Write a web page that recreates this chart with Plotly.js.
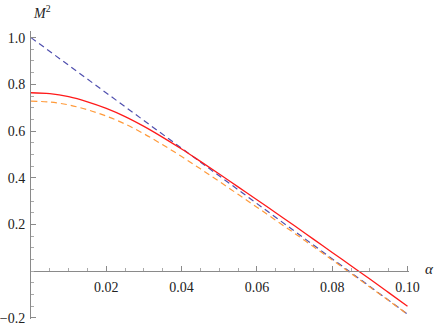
<!DOCTYPE html>
<html>
<head>
<meta charset="utf-8">
<script src="https://cdn.plot.ly/plotly-3.0.1.min.js"></script>
<style>html,body{margin:0;padding:0;background:#fff;}#chart{width:436px;height:327px;}</style>
</head>
<body>
<div id="chart"></div>
<script>
// alpha grid for the curved series
const alpha = [0, 0.005, 0.01, 0.015, 0.02, 0.025, 0.03, 0.035, 0.04, 0.045, 0.05,
               0.055, 0.06, 0.065, 0.07, 0.075, 0.08, 0.085, 0.09, 0.095, 0.1];
// red solid curve
const redM2 = [0.764, 0.760, 0.747, 0.725, 0.697, 0.662, 0.620, 0.573, 0.523, 0.470, 0.416,
               0.361, 0.306, 0.250, 0.194, 0.137, 0.080, 0.023, -0.034, -0.092, -0.150];
// orange dashed curve
const orangeM2 = [0.728, 0.724, 0.712, 0.691, 0.664, 0.630, 0.588, 0.541, 0.491, 0.438, 0.384,
                  0.329, 0.274, 0.218, 0.162, 0.105, 0.048, -0.010, -0.068, -0.126, -0.185];
// blue dashed straight line
const blueAlpha = [0, 0.05, 0.1];
const blueM2 = [1.0, 0.408, -0.184];

const xTickVals = [0.02, 0.04, 0.06, 0.08, 0.1];
const xTickText = ["0.02", "0.04", "0.06", "0.08", "0.10"];
const yTickVals = [-0.2, 0.2, 0.4, 0.6, 0.8, 1.0];
const yTickText = ["\u22120.2", "0.2", "0.4", "0.6", "0.8", "1.0"];

const serif = "Times New Roman, Liberation Serif, DejaVu Serif, serif";
const axisGray = "#8a8a8a";
const yMin = -0.205, yMax = 1.0284;

const traces = [
  {x: blueAlpha, y: blueM2, mode: "lines", line: {color: "#4f4fae", width: 1.2, dash: "6px,4px"}, hoverinfo: "skip"},
  {x: alpha, y: orangeM2, mode: "lines", line: {color: "#ff9a3a", width: 1.2, dash: "6px,4px", shape: "spline"}, hoverinfo: "skip"},
  {x: alpha, y: redM2, mode: "lines", line: {color: "#ff1a1a", width: 1.3, shape: "spline"}, hoverinfo: "skip"}
];

const layout = {
  width: 436, height: 327,
  margin: {l: 31, r: 27, t: 31, b: 8},
  paper_bgcolor: "#fff", plot_bgcolor: "#fff",
  showlegend: false,
  font: {family: serif, size: 14, color: "#222"},
  xaxis: {
    range: [0, 0.1004], anchor: "free", position: (0 - yMin) / (yMax - yMin),
    showline: true, linecolor: axisGray, linewidth: 1,
    showgrid: false, zeroline: false,
    tickmode: "array", tickvals: xTickVals, ticktext: xTickText,
    ticks: "inside", ticklen: 5, tickcolor: axisGray, tickwidth: 1,
    ticklabelstandoff: 3,
    tickfont: {family: serif, size: 14, color: "#222"},
    minor: {tickmode: "linear", tick0: 0, dtick: 0.005, ticks: "inside", ticklen: 3, tickcolor: "#aaa", showgrid: false}
  },
  yaxis: {
    range: [yMin, yMax],
    showline: true, linecolor: axisGray, linewidth: 1,
    showgrid: false, zeroline: false,
    tickmode: "array", tickvals: yTickVals, ticktext: yTickText,
    ticks: "inside", ticklen: 5, tickcolor: axisGray, tickwidth: 1,
    ticklabelstandoff: 2,
    tickfont: {family: serif, size: 14, color: "#222"},
    minor: {tickmode: "linear", tick0: 0, dtick: 0.05, ticks: "inside", ticklen: 3, tickcolor: "#aaa", showgrid: false}
  },
  annotations: [
    {x: 0.029, y: 1.066, xref: "paper", yref: "paper", text: "<i>M</i><sup>2</sup>", showarrow: false,
     font: {family: serif, size: 14, color: "#222"}, xanchor: "center", yanchor: "middle"},
    {x: 1.053, y: 0.172, xref: "paper", yref: "paper", text: "<i>α</i>", showarrow: false,
     font: {family: serif, size: 15, color: "#222"}, xanchor: "center", yanchor: "middle"}
  ]
};

Plotly.newPlot("chart", traces, layout, {staticPlot: true, displayModeBar: false});
</script>
</body>
</html>
